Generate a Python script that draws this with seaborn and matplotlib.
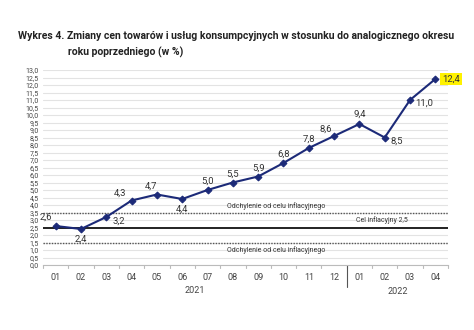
import matplotlib
matplotlib.use("Agg")
import matplotlib.pyplot as plt
import seaborn as sns
import pandas as pd
import numpy as np

months = ["01", "02", "03", "04", "05", "06", "07", "08", "09", "10", "11", "12", "01", "02", "03", "04"]
years = ["2021", "2022"]
values = [2.6, 2.4, 3.2, 4.3, 4.7, 4.4, 5.0, 5.5, 5.9, 6.8, 7.8, 8.6, 9.4, 8.5, 11.0, 12.4]
target = 2.5
band_upper = 3.5
band_lower = 1.5
yticks = [i * 0.5 for i in range(27)]

sns.set_theme(style="white")
plt.rcParams['font.family'] = ['Roboto', 'DejaVu Sans']

df = pd.DataFrame({"x": np.arange(len(values)), "v": values})

fig = plt.figure(figsize=(4.74, 3.30), dpi=100)
ax = fig.add_axes([43/474, 1 - 265/330, 405/474, 195/330])

for y in yticks:
    ax.axhline(y, color="#e3e3e3", lw=0.8, zorder=0)
ax.axhline(band_upper, color="#555555", lw=1.0, ls=(0, (1, 1)), zorder=1)
ax.axhline(band_lower, color="#555555", lw=1.0, ls=(0, (1, 1)), zorder=1)
ax.axhline(target, color="#222222", lw=1.4, zorder=1)

navy = "#1c2a78"
sns.lineplot(data=df, x="x", y="v", ax=ax, color=navy, lw=1.5, marker="D",
             markersize=3.5, markeredgecolor=navy, zorder=3)

offsets = [(-7, 6, "center"), (0, -7, "center"), (9, -3, "center"), (-8, 5, "center"),
           (-4, 6, "center"), (0, -7, "center"), (0, 6, "center"), (0, 6, "center"),
           (0, 6, "center"), (0, 6, "center"), (0, 6, "center"), (-6, 5, "center"),
           (0, 7, "center"), (9, -3, "center"), (10, -2, "center"), (5, 0, "left")]
for i, v in enumerate(values):
    dx, dy, ha = offsets[i]
    lab = f"{v:.1f}".replace(".", ",")
    kw = {}
    if i == len(values) - 1:
        kw = dict(bbox=dict(boxstyle="square,pad=0.2", fc="#fff200", ec="none"))
    ax.annotate(lab, (i, v), xytext=(dx, dy), textcoords="offset points",
                ha=ha, va="center", fontsize=6.8, color="#333333", **kw)

ax.text(8.7, band_upper + 0.2, "Odchylenie od celu inflacyjnego", fontsize=5,
        color="#333333", ha="center", va="bottom")
ax.text(8.7, band_lower - 0.25, "Odchylenie od celu inflacyjnego", fontsize=5,
        color="#333333", ha="center", va="top")
ax.text(12.9, target + 0.2, "Cel inflacyjny 2,5", fontsize=5, color="#333333",
        ha="center", va="bottom")

ax.set_xlim(-0.5, len(values) - 0.5)
ax.set_ylim(0, 13.0)
ax.set_yticks(yticks)
ax.set_yticklabels([f"{y:.1f}".replace(".", ",") for y in yticks], fontsize=5, color="#444444")
ax.set_xticks(range(len(values)))
ax.set_xticklabels(months, fontsize=6.5, color="#444444")
ax.tick_params(axis="x", length=0, pad=6)
ax.tick_params(axis="y", length=0, pad=3)
for b in np.arange(-0.5, len(values), 1.0):
    ax.plot([b, b], [0, -0.2], color="#bbbbbb", lw=0.8, clip_on=False)
ax.plot([11.5, 11.5], [0, -1.45], color="#555555", lw=0.8, clip_on=False)
ax.text(5.5, -1.7, years[0], transform=ax.transData, ha="center", va="center",
        fontsize=6.5, color="#444444")
ax.text(13.5, -1.75, years[1], transform=ax.transData, ha="center", va="center",
        fontsize=6.5, color="#444444")
ax.set_xlabel("")
ax.set_ylabel("")
for s in ["top", "right", "left"]:
    ax.spines[s].set_visible(False)
ax.spines["bottom"].set_color("#bbbbbb")
ax.spines["bottom"].set_linewidth(0.8)

fig.text(18/474, 1 - 36/330, "Wykres 4. Zmiany cen towarów i usług konsumpcyjnych w stosunku do analogicznego okresu",
         fontsize=7.5, fontweight="bold", color="#222222", va="center", ha="left")
fig.text(68/474, 1 - 52/330, "roku poprzedniego (w %)",
         fontsize=7.5, fontweight="bold", color="#222222", va="center", ha="left")

fig.savefig("out.png", dpi=100)
